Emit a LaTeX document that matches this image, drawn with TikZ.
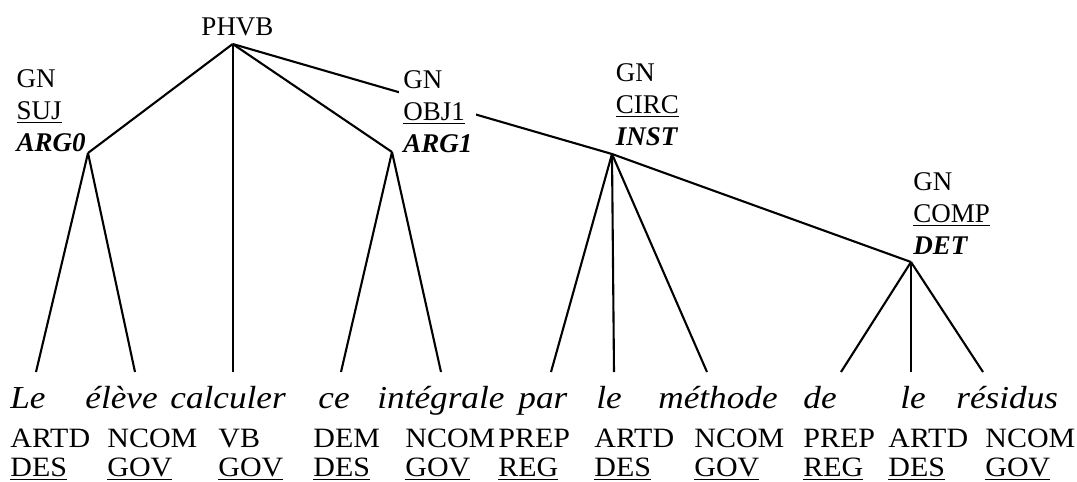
\documentclass[tikz,border=0pt]{standalone}
\usepackage{fontspec}
\setmainfont{Liberation Serif}
% the sentence rows are set in a slightly widened face
\newcommand{\widetext}[1]{\scalebox{1.1}[1]{#1}}
\newcommand{\widetag}[1]{\scalebox{1.07}[1]{#1}}
\begin{document}
\begin{tikzpicture}[x=0.5pt,y=-0.5pt,
  edge/.style={line width=1.05pt},
  lbl/.style={font=\fontsize{13.5}{16}\selectfont, inner sep=0pt, align=left},
  word/.style={font=\fontsize{16}{18}\selectfont\itshape, inner sep=0pt, anchor=base west},
  tag/.style={font=\fontsize{14}{16}\selectfont, inner sep=0pt, anchor=base west}]
\useasboundingbox (0,0) rectangle (1077,482);

% branching points of the tree
\coordinate (root) at (232.7,44);
\coordinate (suj)  at (88,153);
\coordinate (obj)  at (392,152);
\coordinate (circ) at (612,154);
\coordinate (comp) at (911,262);

% lower ends of the leaf branches
\coordinate (l1)  at (36,372);
\coordinate (l2)  at (135,372);
\coordinate (l3)  at (232.7,372);
\coordinate (l4)  at (341,372);
\coordinate (l5)  at (441,372);
\coordinate (l6)  at (551,372);
\coordinate (l7)  at (614,372);
\coordinate (l8)  at (707,372);
\coordinate (l9)  at (841,372);
\coordinate (l10) at (911,372);
\coordinate (l11) at (983,372);

\node[lbl, anchor=base] (phvb) at (237.5,35) {PHVB};

% edges
\draw[edge] (root) -- (circ);
\draw[edge] (root) -- (suj);
\draw[edge] (root) -- (l3);
\draw[edge] (root) -- (obj);
\draw[edge] (suj) -- (l1);
\draw[edge] (suj) -- (l2);
\draw[edge] (obj) -- (l4);
\draw[edge] (obj) -- (l5);
\draw[edge] (circ) -- (l6);
\draw[edge] (circ) -- (l7);
\draw[edge] (circ) -- (l8);
\draw[edge] (circ) -- (comp);
\draw[edge] (comp) -- (l9);
\draw[edge] (comp) -- (l10);
\draw[edge] (comp) -- (l11);

% constituent labels
\node[lbl, anchor=south east] (sujlbl) at (86,152) {GN\\\underline{SUJ}\\\textbf{\textit{ARG0}}};
\node[lbl, anchor=south west, fill=white, inner sep=2pt] (objlbl) at (399,157) {GN\\\underline{OBJ1}\\\textbf{\textit{ARG1}}};
\node[lbl, anchor=south west] (circlbl) at (615.5,146) {GN\\\underline{CIRC}\\\textbf{\textit{INST}}};
\node[lbl, anchor=south west] (complbl) at (913,255) {GN\\\underline{COMP}\\\textbf{\textit{DET}}};

% words
\node[word] (w1)  at (10,408)  {\widetext{Le}};
\node[word] (w2)  at (85,408)  {\widetext{élève}};
\node[word] (w3)  at (170,408) {\widetext{calculer}};
\node[word] (w4)  at (318,408) {\widetext{ce}};
\node[word] (w5)  at (377,408) {\widetext{intégrale}};
\node[word] (w6)  at (518,408) {\widetext{par}};
\node[word] (w7)  at (596,408) {\widetext{le}};
\node[word] (w8)  at (658,408) {\widetext{méthode}};
\node[word] (w9)  at (803,408) {\widetext{de}};
\node[word] (w10) at (900,408) {\widetext{le}};
\node[word] (w11) at (956,408) {\widetext{résidus}};

% part-of-speech tags
\node[tag] (p1)  at (10,447)  {\widetag{ARTD}};
\node[tag] (p2)  at (107,447) {\widetag{NCOM}};
\node[tag] (p3)  at (218,447) {\widetag{VB}};
\node[tag] (p4)  at (313,447) {\widetag{DEM}};
\node[tag] (p5)  at (405,447) {\widetag{NCOM}};
\node[tag] (p6)  at (498,447) {\widetag{PREP}};
\node[tag] (p7)  at (594,447) {\widetag{ARTD}};
\node[tag] (p8)  at (694,447) {\widetag{NCOM}};
\node[tag] (p9)  at (803,447) {\widetag{PREP}};
\node[tag] (p10) at (888,447) {\widetag{ARTD}};
\node[tag] (p11) at (985,447) {\widetag{NCOM}};

% dependency roles
\node[tag] (r1)  at (10,476)  {\widetag{\underline{DES}}};
\node[tag] (r2)  at (107,476) {\widetag{\underline{GOV}}};
\node[tag] (r3)  at (218,476) {\widetag{\underline{GOV}}};
\node[tag] (r4)  at (313,476) {\widetag{\underline{DES}}};
\node[tag] (r5)  at (405,476) {\widetag{\underline{GOV}}};
\node[tag] (r6)  at (498,476) {\widetag{\underline{REG}}};
\node[tag] (r7)  at (594,476) {\widetag{\underline{DES}}};
\node[tag] (r8)  at (694,476) {\widetag{\underline{GOV}}};
\node[tag] (r9)  at (803,476) {\widetag{\underline{REG}}};
\node[tag] (r10) at (888,476) {\widetag{\underline{DES}}};
\node[tag] (r11) at (985,476) {\widetag{\underline{GOV}}};
\end{tikzpicture}
\end{document}
